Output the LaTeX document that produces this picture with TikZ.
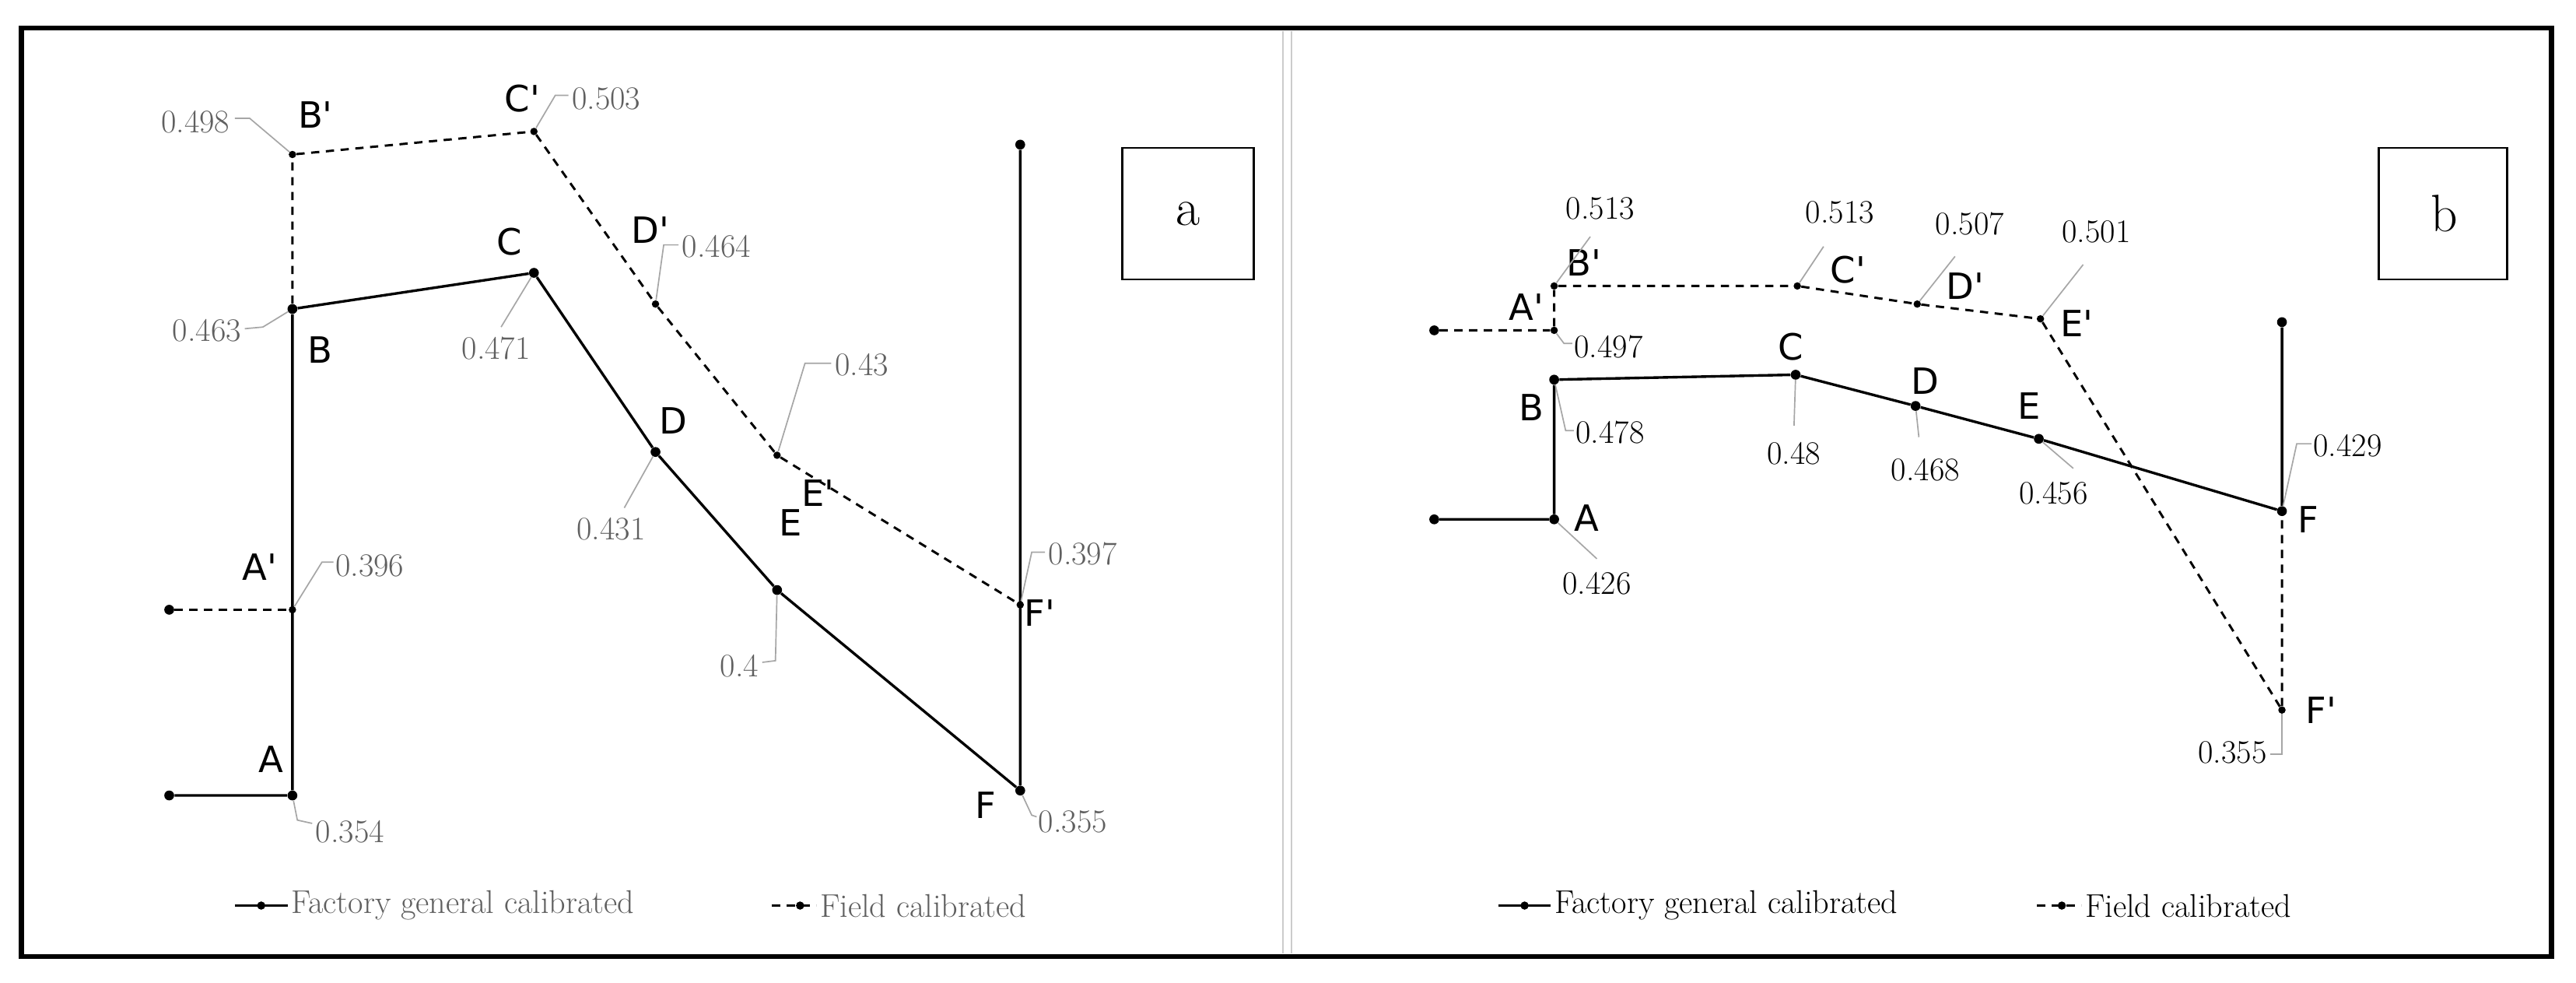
\documentclass[tikz,border=0pt]{standalone}
\usepackage{fontspec}
\newfontfamily\sansf{DejaVu Sans}
\begin{document}
\begin{tikzpicture}[x=1pt,y=-1pt,
 ln/.style={line width=1.6pt},
 dl/.style={line width=1.4pt,dash pattern=on 5pt off 4pt},
 ld/.style={gray!70,line width=0.8pt},
 pt/.style={circle,fill=black,inner sep=0pt,minimum size=6pt},
 ps/.style={circle,fill=black,inner sep=0pt,minimum size=4.5pt},
 lab/.style={font=\sansf\fontsize{22}{24}\selectfont},
 num/.style={font=\fontsize{20}{22}\selectfont,inner sep=1pt},
 gnum/.style={num,text=gray!75!black},
 lg/.style={font=\fontsize{20}{22}\selectfont,anchor=west,inner sep=2pt}]
\useasboundingbox (0,0) rectangle (1568,598);
\fill[white] (0,0) rectangle (1568,598);
\draw[line width=3pt] (13,17) rectangle (1553,582);
\draw[gray!40,line width=0.8pt] (781,19)--(781,580) (786,19)--(786,580);
% ---------- panel a ----------
\node[pt] (a0) at (103,484) {}; \node[pt] (aA) at (178,484) {};
\node[ps] (aA1) at (178,371) {}; \node[pt] (a01) at (103,371) {};
\node[pt] (aB) at (178,188) {}; \node[ps] (aB1) at (178,94) {};
\node[pt] (aC) at (325,166) {}; \node[ps] (aC1) at (325,80) {};
\node[pt] (aD) at (399,275) {}; \node[ps] (aD1) at (399,185) {};
\node[pt] (aE) at (473,359) {}; \node[ps] (aE1) at (473,277) {};
\node[pt] (aF) at (621,481) {}; \node[ps] (aF1) at (621,368) {};
\node[pt] (aFt) at (621,88) {};
\draw[ln] (a0)--(aA)--(aB)--(aC)--(aD)--(aE)--(aF)--(aFt);
\draw[dl] (a01)--(aA1);
\draw[dl] (aB)--(aB1)--(aC1)--(aD1)--(aE1)--(aF1);
\node[lab] (laA) at (165,462) {A}; \node[lab] (laA1) at (158,345) {A'};
\node[lab] (laB) at (195,213) {B}; \node[lab] (laB1) at (192,70) {B'};
\node[lab] (laC) at (310,147) {C}; \node[lab] (laC1) at (318,60) {C'};
\node[lab] (laD) at (410,256) {D}; \node[lab] (laD1) at (396,140) {D'};
\node[lab] (laE) at (481,318) {E}; \node[lab] (laE1) at (498,300) {E'};
\node[lab] (laF) at (600,490) {F}; \node[lab] (laF1) at (633,373) {F'};
\node[gnum,anchor=west] (na1) at (191,506) {0.354};
\draw[ld] (aA)--(181,499)--(190,501);
\node[gnum,anchor=west] (na2) at (203,344) {0.396};
\draw[ld] (aA1)--(196,342)--(203,342);
\node[gnum,anchor=east] (na3) at (148,201) {0.463};
\draw[ld] (aB)--(160,199)--(149,200);
\node[gnum,anchor=east] (na4) at (141,74) {0.498};
\draw[ld] (aB1)--(152,72)--(143,72);
\node[gnum,anchor=west] (na5) at (347,60) {0.503};
\draw[ld] (aC1)--(338,58)--(346,58);
\node[gnum] (na6) at (302,212) {0.471};
\draw[ld] (aC)--(305,199);
\node[gnum,anchor=west] (na7) at (414,150) {0.464};
\draw[ld] (aD1)--(404,149)--(413,149);
\node[gnum] (na8) at (372,322) {0.431};
\draw[ld] (aD)--(380,309);
\node[gnum,anchor=west] (na9) at (507,222) {0.43};
\draw[ld] (aE1)--(490,221)--(506,221);
\node[gnum,anchor=east] (na10) at (463,405) {0.4};
\draw[ld] (aE)--(472,402)--(464,403);
\node[gnum,anchor=west] (na11) at (637,337) {0.397};
\draw[ld] (aF1)--(628,336)--(636,336);
\node[gnum,anchor=west] (na12) at (631,500) {0.355};
\draw[ld] (aF)--(628,496)--(631,497);
\draw[line width=1.3pt] (683,90) rectangle (763,170);
\node[font=\fontsize{32}{34}\selectfont] (ta) at (723,130) {a};
\node[pt,minimum size=5pt] (lga) at (159,551) {};
\draw[ln] (143,551)--(175,551);
\node[lg,text=gray!75!black] (lgat) at (175,551) {Factory general calibrated};
\node[pt,minimum size=5pt] (lga2) at (487,551) {};
\draw[dl,dash pattern=on 5pt off 4pt] (470,551)--(497,551);
\node[lg,text=gray!75!black] (lga2t) at (497,551) {Field calibrated};
% ---------- panel b ----------
\node[pt] (b0) at (873,316) {}; \node[pt] (bA) at (946,316) {};
\node[pt] (bB) at (946,231) {};
\node[pt] (b01) at (873,201) {}; \node[ps] (bA1) at (946,201) {};
\node[ps] (bB1) at (946,174) {}; \node[ps] (bC1) at (1094,174) {};
\node[ps] (bD1) at (1167,185) {}; \node[ps] (bE1) at (1242,194) {};
\node[pt] (bC) at (1093,228) {}; \node[pt] (bD) at (1166,247) {};
\node[pt] (bE) at (1241,267) {}; \node[pt] (bF) at (1389,311) {};
\node[pt] (bFt) at (1389,196) {}; \node[ps] (bF1) at (1389,432) {};
\draw[ln] (b0)--(bA)--(bB)--(bC)--(bD)--(bE)--(bF)--(bFt);
\draw[dl] (b01)--(bA1)--(bB1)--(bC1)--(bD1)--(bE1)--(bF1)--(bF);
\node[lab] (lbA) at (966,315) {A}; \node[lab] (lbA1) at (929,187) {A'};
\node[lab] (lbB) at (932,248) {B}; \node[lab] (lbB1) at (964,160) {B'};
\node[lab] (lbC) at (1090,211) {C}; \node[lab] (lbC1) at (1125,164) {C'};
\node[lab] (lbD) at (1172,232) {D}; \node[lab] (lbD1) at (1196,174) {D'};
\node[lab] (lbE) at (1235,247) {E}; \node[lab] (lbE1) at (1264,197) {E'};
\node[lab] (lbF) at (1405,316) {F}; \node[lab] (lbF1) at (1413,432) {F'};
\node[num] (nb1) at (974,127) {0.513};
\draw[ld] (bB1)--(968,144);
\node[num] (nb2) at (1120,129) {0.513};
\draw[ld] (bC1)--(1110,150);
\node[num] (nb3) at (1199,136) {0.507};
\draw[ld] (bD1)--(1190,156);
\node[num] (nb4) at (1276,141) {0.501};
\draw[ld] (bE1)--(1268,161);
\node[num,anchor=west] (nb5) at (957,211) {0.497};
\draw[ld] (bA1)--(952,209)--(957,209);
\node[num,anchor=west] (nb6) at (958,263) {0.478};
\draw[ld] (bB)--(953,262)--(958,262);
\node[num] (nb7) at (1092,276) {0.48};
\draw[ld] (bC)--(1092,259);
\node[num] (nb8) at (1172,286) {0.468};
\draw[ld] (bD)--(1168,266);
\node[num] (nb9) at (1250,300) {0.456};
\draw[ld] (bE)--(1262,285);
\node[num] (nb10) at (972,355) {0.426};
\draw[ld] (bA)--(972,340);
\node[num,anchor=west] (nb11) at (1407,271) {0.429};
\draw[ld] (bF)--(1398,270)--(1407,270);
\node[num,anchor=east] (nb12) at (1381,458) {0.355};
\draw[ld] (bF1)--(1389,459)--(1382,459);
\draw[line width=1.3pt] (1448,90) rectangle (1526,170);
\node[font=\fontsize{32}{34}\selectfont] (tb) at (1488,130) {b};
\node[pt,minimum size=5pt] (lgb) at (928,551) {};
\draw[ln] (912,551)--(944,551);
\node[lg] (lgbt) at (944,551) {Factory general calibrated};
\node[pt,minimum size=5pt] (lgb2) at (1255,551) {};
\draw[dl] (1240,551)--(1267,551);
\node[lg] (lgb2t) at (1267,551) {Field calibrated};
\end{tikzpicture}
\end{document}
